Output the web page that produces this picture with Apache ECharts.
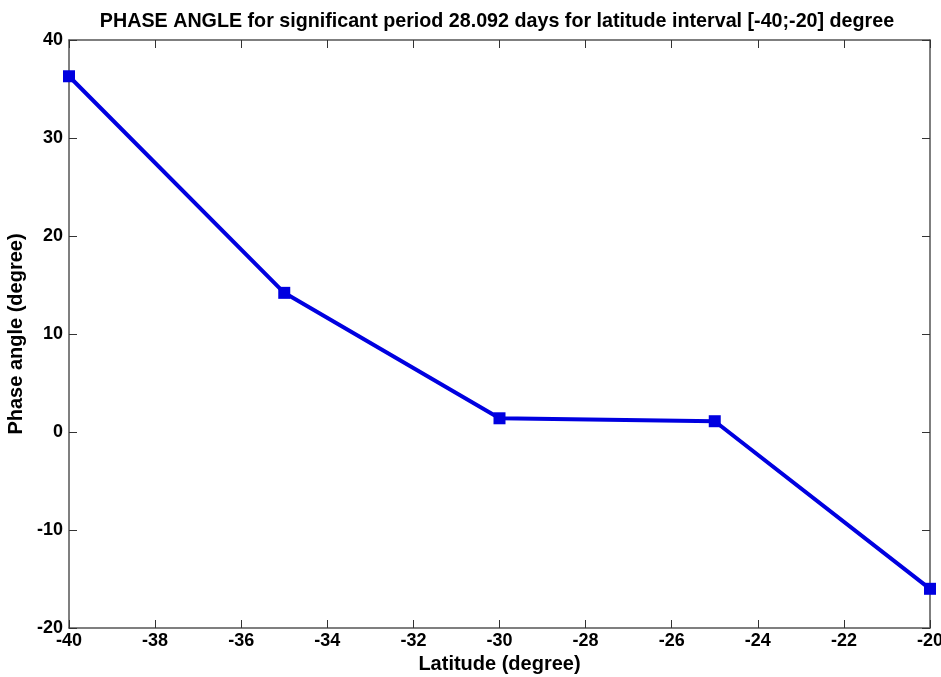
<!DOCTYPE html>
<html><head><meta charset="utf-8">
<script src="https://cdn.jsdelivr.net/npm/echarts@6/dist/echarts.min.js"></script>
<style>html,body{margin:0;padding:0;background:#fff}#c{width:941px;height:677px}</style>
</head><body><div id="c"></div>
<script>
const latitudes = [-40, -35, -30, -25, -20];
const phaseAngles = [36.3, 14.2, 1.4, 1.1, -16.0];
const titleText = 'PHASE ANGLE for significant period 28.092 days for latitude interval [-40;-20] degree';
const xName = 'Latitude (degree)';
const yName = 'Phase angle (degree)';

const chart = echarts.init(document.getElementById('c'));
const font = 'Liberation Sans, Arial, sans-serif';
const axisLine = {show: true, onZero: false, lineStyle: {color: '#555', width: 1.5}};
const tickIn = {show: true, inside: true, length: 8, lineStyle: {color: '#333', width: 1}};
chart.setOption({
  animation: false,
  backgroundColor: '#fff',
  title: {text: titleText, left: 492, textAlign: 'center', top: 7,
    textStyle: {fontFamily: font, fontWeight: 'bold', fontSize: 19.7, color: '#000'}},
  grid: {left: 69, right: 11, top: 40, bottom: 49, containLabel: false, outerBoundsMode: 'none'},
  xAxis: [{
    type: 'value', min: -40, max: -20, interval: 2,
    name: xName, nameLocation: 'middle', nameGap: 21,
    nameTextStyle: {fontFamily: font, fontWeight: 'bold', fontSize: 20, color: '#000'},
    axisLine: axisLine, axisTick: tickIn, splitLine: {show: false},
    axisLabel: {fontFamily: font, fontWeight: 'bold', fontSize: 18, color: '#000', margin: 4}
  }, {
    type: 'value', min: -40, max: -20, interval: 2, position: 'top',
    axisLine: axisLine, axisTick: tickIn, splitLine: {show: false}, axisLabel: {show: false}
  }],
  yAxis: [{
    type: 'value', min: -20, max: 40, interval: 10,
    name: yName, nameLocation: 'middle', nameGap: 40,
    nameTextStyle: {fontFamily: font, fontWeight: 'bold', fontSize: 20, color: '#000'},
    axisLine: axisLine, axisTick: tickIn, splitLine: {show: false},
    axisLabel: {fontFamily: font, fontWeight: 'bold', fontSize: 18, color: '#000', margin: 6}
  }, {
    type: 'value', min: -20, max: 40, interval: 10, position: 'right',
    axisLine: axisLine, axisTick: tickIn, splitLine: {show: false}, axisLabel: {show: false}
  }],
  series: [{
    type: 'line',
    data: latitudes.map((x, i) => [x, phaseAngles[i]]),
    symbol: 'rect', symbolSize: 12,
    lineStyle: {color: '#0000e0', width: 4},
    itemStyle: {color: '#0000e0'},
    clip: false
  }]
});
</script></body></html>
